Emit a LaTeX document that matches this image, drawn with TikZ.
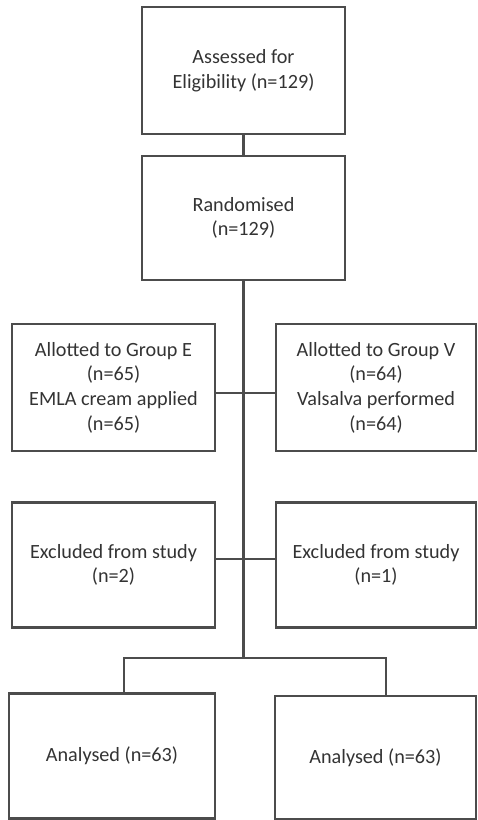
\documentclass[tikz,border=0pt]{standalone}
\usepackage{fontspec}
\setmainfont{Carlito}
\usepackage{tikz}
\usetikzlibrary{positioning}

\begin{document}
\begin{tikzpicture}[x=0.02cm, y=-0.02cm,
        box/.style={rectangle, draw=black!70, line width=1.3pt, text=black!80,
        align=center, inner sep=0pt, font=\fontsize{11.5}{14}\selectfont},
        link/.style={draw=black!70, line width=1.3pt}]

        \useasboundingbox (0,0) rectangle (477,820);

        \node[box, minimum width=4.06cm, minimum height=2.54cm] (assess) at (243.5,70.5)
            {Assessed for\\Eligibility (n=129)};
        \node[box, minimum width=4.06cm, minimum height=2.48cm] (random) at (243.5,218)
            {Randomised\\(n=129)};
        \node[box, minimum width=4.06cm, minimum height=2.54cm] (groupE) at (113.5,387.5)
            {Allotted to Group E\\(n=65)\\EMLA cream applied\\(n=65)};
        \node[box, minimum width=4.0cm, minimum height=2.54cm] (groupV) at (376,387.5)
            {Allotted to Group V\\(n=64)\\Valsalva performed\\(n=64)};
        \node[box, minimum width=4.06cm, minimum height=2.5cm] (exclE) at (113.5,565)
            {Excluded from study\\(n=2)};
        \node[box, minimum width=4.0cm, minimum height=2.5cm] (exclV) at (376,565)
            {Excluded from study\\(n=1)};
        \node[box, minimum width=4.12cm, minimum height=2.5cm] (analE) at (112,756)
            {Analysed (n=63)};
        \node[box, minimum width=4.02cm, minimum height=2.46cm] (analV) at (375.5,757.5)
            {Analysed (n=63)};
        \coordinate (split) at (243.5,658);

        \draw[link] (assess) -- (random);
        \draw[link] (random) -- (split);
        \draw[link] ([yshift=-3pt]groupE.east) -- ([yshift=-3pt]groupV.west);
        \draw[link] ([yshift=3.4pt]exclE.east) -- ([yshift=3.4pt]exclV.west);
        \draw[link] ([xshift=7]analE.north) |- (split) -| ([xshift=6]analV.north);
    \end{tikzpicture}
\end{document}
